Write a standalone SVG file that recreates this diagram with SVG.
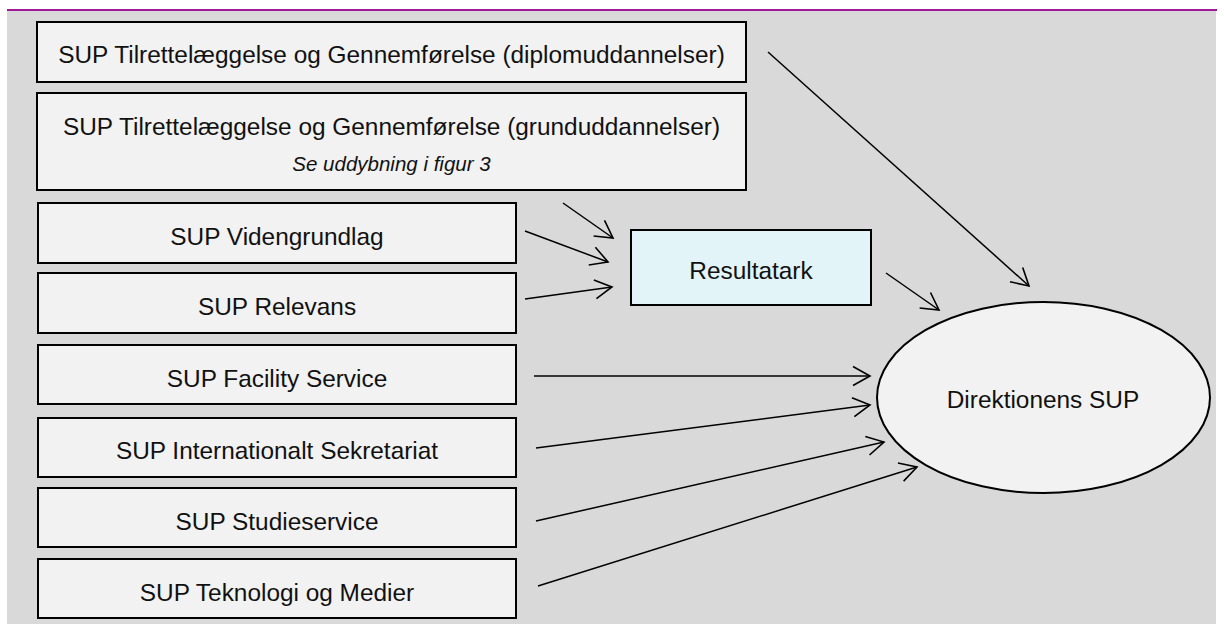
<svg xmlns="http://www.w3.org/2000/svg" width="1224" height="625" viewBox="0 0 1224 625">
<style>
.box{fill:#f2f2f2;stroke:#000;stroke-width:2}
.res{fill:#e2f4f8;stroke:#000;stroke-width:2}
.t{font-family:"Liberation Sans",Arial,sans-serif;font-size:24.4px;fill:#111;text-anchor:middle}
.i{font-family:"Liberation Sans",Arial,sans-serif;font-size:20.5px;font-style:italic;fill:#111;text-anchor:middle}
.c line{stroke:#000;stroke-width:1.5;marker-end:url(#ah)}
</style>
<defs>
<marker id="ah" markerUnits="userSpaceOnUse" viewBox="-19 -11 21 22" refX="0" refY="0" markerWidth="21" markerHeight="22" orient="auto" overflow="visible">
<path d="M-17,-9.5 L0,0 L-17,9.5" fill="none" stroke="#000" stroke-width="1.6"/>
</marker>
</defs>
<rect x="0" y="0" width="1224" height="625" fill="#fff"/>
<rect x="7" y="10" width="1209" height="614" fill="#d9d9d9"/>
<line x1="7" y1="10" x2="1217" y2="10" stroke="#a0199a" stroke-width="2"/>
<g id="n1"><rect class="box" x="37" y="22" width="709" height="60"/><text class="t" x="391.5" y="63">SUP Tilrettelæggelse og Gennemførelse (diplomuddannelser)</text></g>
<g id="n2"><rect class="box" x="37" y="93" width="709" height="97"/><text class="t" x="391.5" y="135">SUP Tilrettelæggelse og Gennemførelse (grunduddannelser)</text><text class="i" x="391.5" y="171">Se uddybning i figur 3</text></g>
<g id="n3"><rect class="box" x="38" y="203" width="478" height="60"/><text class="t" x="277" y="245">SUP Videngrundlag</text></g>
<g id="n4"><rect class="box" x="38" y="273" width="478" height="60"/><text class="t" x="277" y="315">SUP Relevans</text></g>
<g id="n5"><rect class="box" x="38" y="345" width="478" height="59"/><text class="t" x="277" y="387">SUP Facility Service</text></g>
<g id="n6"><rect class="box" x="38" y="418" width="478" height="59"/><text class="t" x="277" y="459">SUP Internationalt Sekretariat</text></g>
<g id="n7"><rect class="box" x="38" y="488" width="478" height="59"/><text class="t" x="277" y="530">SUP Studieservice</text></g>
<g id="n8"><rect class="box" x="38" y="559" width="478" height="59"/><text class="t" x="277" y="601">SUP Teknologi og Medier</text></g>
<g id="res"><rect class="res" x="631" y="230" width="240" height="75"/><text class="t" x="751" y="279">Resultatark</text></g>
<g id="dir"><ellipse cx="1043.5" cy="397.5" rx="166.5" ry="95.5" fill="#f2f2f2" stroke="#000" stroke-width="2"/><text class="t" x="1043" y="408">Direktionens SUP</text></g>
<g class="c" id="connectors">
<line x1="768" y1="52" x2="1029" y2="286"/>
<line x1="563" y1="203" x2="613" y2="238"/>
<line x1="525" y1="231" x2="608" y2="262"/>
<line x1="525" y1="299" x2="612" y2="287"/>
<line x1="886" y1="273" x2="939" y2="310"/>
<line x1="534" y1="376" x2="870" y2="376"/>
<line x1="536" y1="448" x2="870" y2="405"/>
<line x1="536" y1="521" x2="884" y2="442"/>
<line x1="538" y1="586" x2="917" y2="467"/>
</g>
</svg>
